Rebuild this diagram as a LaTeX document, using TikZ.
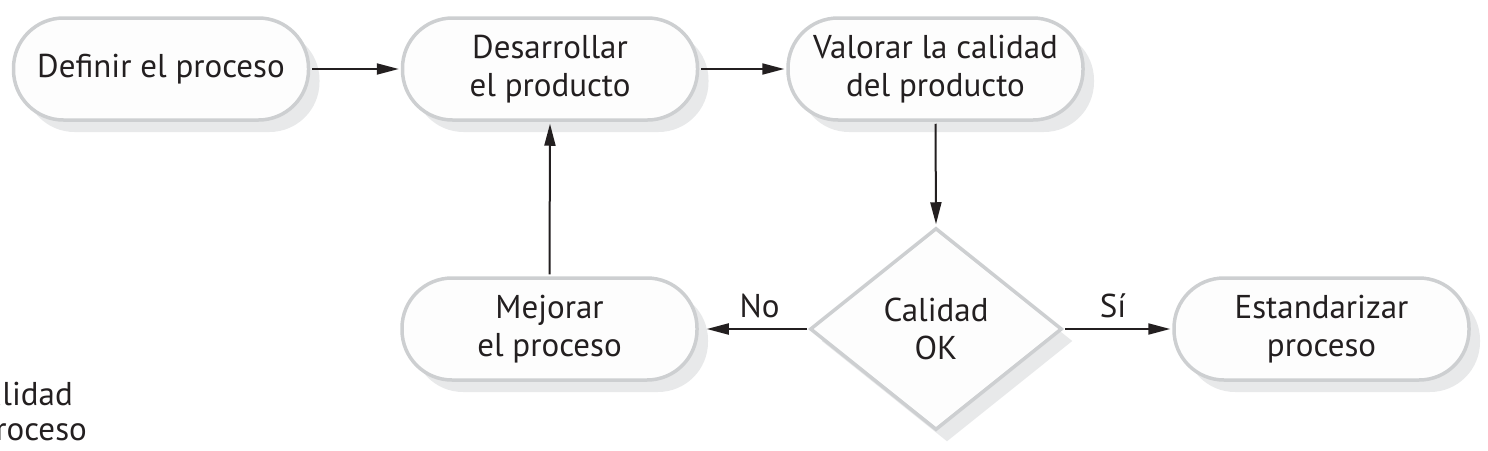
\documentclass[tikz,border=0pt]{standalone}
\usepackage{fontspec}
\setmainfont{PT Sans}
\usetikzlibrary{arrows.meta,shapes.geometric,shadows}
\definecolor{bordergray}{HTML}{CDCFD1}
\definecolor{shadowgray}{HTML}{E8E9EA}
\definecolor{fillwhite}{HTML}{FDFDFD}
\definecolor{inkblack}{HTML}{231F20}
\tikzset{
  boxtext/.style={font=\fontsize{33}{38}\selectfont, text=inkblack, align=center},
  stadium/.style={boxtext, rectangle, rounded corners=50pt, draw=bordergray, line width=3.5pt,
    fill=fillwhite, minimum width=295pt, minimum height=102pt, inner sep=0pt,
    drop shadow={shadow xshift=11pt, shadow yshift=-12pt, fill=shadowgray, opacity=1}},
  decision/.style={boxtext, diamond, draw=bordergray, line width=3.5pt, fill=fillwhite,
    minimum width=252pt, minimum height=202pt, aspect=1.25, inner sep=0pt,
    drop shadow={shadow xshift=11pt, shadow yshift=-12pt, fill=shadowgray, opacity=1}},
  flow/.style={draw=inkblack, line width=2pt, -{Triangle[length=22pt,width=11pt]}},
  lbl/.style={boxtext, inner sep=0pt, anchor=base}
}
\begin{document}
\begin{tikzpicture}[x=1pt,y=-1pt]
\useasboundingbox (0,0) rectangle (1488,450);
\node[stadium] (def) at (161,69) {Definir el proceso};
\node[stadium] (des) at (550,69) {Desarrollar\\el producto};
\node[stadium] (val) at (935.5,69) {Valorar la calidad\\del producto};
\node[decision] (ok) at (936,329) {Calidad\\OK};
\node[stadium] (mej) at (549.5,329) {Mejorar\\el proceso};
\node[stadium] (est) at (1321.5,329) {Estandarizar\\proceso};
\node[lbl, anchor=base east] (c1) at (73,405) {Calidad};
\node[lbl, anchor=base east] (c2) at (87,440) {proceso};
\draw[flow, shorten <=2pt, shorten >=2pt] (def.east) -- (des.west);
\draw[flow, shorten <=2pt, shorten >=2pt] (des.east) -- (val.west);
\draw[flow, shorten <=2pt, shorten >=2pt] (val.south) -- (ok.north);
\draw[flow, shorten <=1pt, shorten >=8pt] (ok.west) -- node[lbl, shift={(6pt,12pt)}] (no) {No} (mej.east);
\draw[flow, shorten <=1pt, shorten >=2pt] (ok.east) -- node[lbl, shift={(-5pt,12pt)}] (si) {Sí} (est.west);
\draw[flow, shorten <=2pt, shorten >=2pt] (mej.north) -- (des.south);
\end{tikzpicture}
\end{document}
